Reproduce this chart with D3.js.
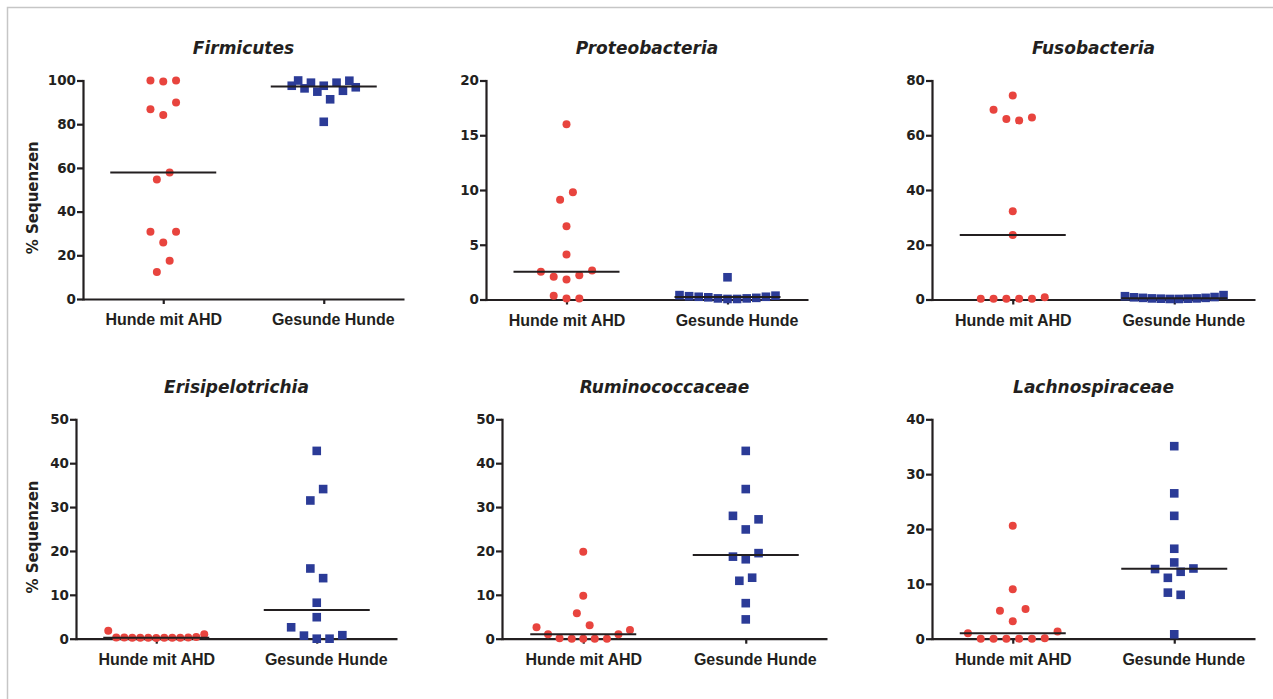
<!DOCTYPE html>
<html>
<head>
<meta charset="utf-8">
<script src="https://cdn.jsdelivr.net/npm/d3@7/dist/d3.min.js"></script>
<style>
  body { margin: 0; background: #fff; }
  svg { display: block; font-family: "Liberation Sans", Arial, sans-serif; }
</style>
</head>
<body>
<svg id="chart" width="1273" height="699"></svg>
<script>
// Dot plots: % Sequenzen per taxon, dogs with AHD vs healthy dogs
const groups = ["Hunde mit AHD", "Gesunde Hunde"];
const titles = ["Firmicutes", "Proteobacteria", "Fusobacteria",
                "Erisipelotrichia", "Ruminococcaceae", "Lachnospiraceae"];
const yMaxes = [100, 20, 80, 50, 50, 40];
const yTickSteps = [20, 5, 20, 10, 10, 10];

// each point: [percent, dot column in the scatter (0 = on the category)]
const firmicutesAhd = [[100, -2], [99.5, 0], [100, 2], [86.8, -2], [84.2, 0], [89.9, 2],
  [57.9, 1], [54.7, -1], [30.8, -2], [25.9, 0], [30.8, 2], [17.5, 1], [12.3, -1]];
const firmicutesGesund = [[97.6, -5], [100, -4], [96.4, -3], [99, -2], [94.9, -1], [97.6, 0],
  [91.4, 1], [99, 2], [95.3, 3], [99.9, 4], [96.9, 5], [81.1, 0]];

const proteoAhd = [[16.0, 0], [9.1, -1], [9.8, 1], [6.7, 0], [4.1, 0], [2.53, -4], [2.07, -2],
  [1.82, 0], [2.22, 2], [2.64, 4], [0.34, -2], [0.09, 0], [0.09, 2]];
const proteoGesund = [[0.4, -7.5], [0.3, -6], [0.25, -4.5], [0.2, -3], [0.1, -1.5], [0.05, 0],
  [0.05, 1.5], [0.1, 3], [0.15, 4.5], [0.25, 6], [0.35, 7.5], [2.03, 0]];

const fusoAhd = [[74.5, 0], [69.3, -3], [65.9, -1], [65.4, 1], [66.5, 3], [32.2, 0], [23.6, 0],
  [0.3, -5], [0.3, -3], [0.3, -1], [0.3, 1], [0.3, 3], [0.8, 5]];
const fusoGesund = [[1.2, -7.7], [0.8, -6.3], [0.6, -4.9], [0.4, -3.5], [0.3, -2.1], [0.2, -0.7],
  [0.2, 0.7], [0.3, 2.1], [0.4, 3.5], [0.6, 4.9], [0.9, 6.3], [1.6, 7.7]];

const erisiAhd = [[1.8, -7.5], [0.3, -6.25], [0.3, -5], [0.2, -3.75], [0.2, -2.5], [0.2, -1.25],
  [0.15, 0], [0.2, 1.25], [0.2, 2.5], [0.2, 3.75], [0.3, 5], [0.4, 6.25], [1.0, 7.5]];
const erisiGesund = [[42.8, 0], [34.1, 1], [31.5, -1], [16.0, -1], [13.8, 1], [8.2, 0], [4.9, 0],
  [2.6, -4], [0.7, -2], [0, 0], [0, 2], [0.8, 4]];

const ruminoAhd = [[19.8, 0], [9.8, 0], [5.8, -1], [3.05, 1], [2.6, -7.3], [1.0, -5.5], [0.1, -3.7],
  [0, -1.8], [0, 0], [0, 1.8], [0, 3.7], [1.0, 5.5], [2.0, 7.3]];
const ruminoGesund = [[42.8, 0], [34.1, 0], [28.0, -2], [27.2, 2], [24.9, 0], [18.7, -2], [18.1, 0],
  [19.5, 2], [13.2, -1], [13.9, 1], [8.1, 0], [4.4, 0]];

const lachnoAhd = [[20.6, 0], [9.0, 0], [5.1, -2], [5.4, 2], [3.2, 0], [1.0, -7], [0, -5], [0, -3],
  [0, -1], [0, 1], [0, 3], [0.1, 5], [1.3, 7]];
const lachnoGesund = [[35.1, 0], [26.5, 0], [22.4, 0], [16.4, 0], [13.9, 0], [12.7, -3], [12.8, 3],
  [12.2, 1], [11.1, -1], [8.4, -1], [8.0, 1], [0.8, 0]];

const series = [
  [firmicutesAhd, firmicutesGesund],
  [proteoAhd, proteoGesund],
  [fusoAhd, fusoGesund],
  [erisiAhd, erisiGesund],
  [ruminoAhd, ruminoGesund],
  [lachnoAhd, lachnoGesund]
];

// grid layout (axis extents of each panel)
const panelBoxes = [
  { x0: 83, x1: 404, top: 80.5, bottom: 299, yLabel: true },
  { x0: 486, x1: 808, top: 80.5, bottom: 299.5 },
  { x0: 932, x1: 1255, top: 80.5, bottom: 299.5 },
  { x0: 76, x1: 397, top: 419.3, bottom: 638.7, yLabel: true },
  { x0: 502, x1: 827, top: 419.3, bottom: 638.7 },
  { x0: 932, x1: 1255, top: 419.3, bottom: 638.7 }
];

const INK = "#231f20";
const WIDE = "'DejaVu Sans', Verdana, sans-serif";
const colours = ["#e8443e", "#2b3b97"];
const dotCol = d3.scaleLinear().domain([0, 1]).range([0, 6.4]);

const svg = d3.select("#chart");

// light frame (top and left edge)
svg.append("path")
  .attr("d", "M7.5,699V7.5H1273")
  .attr("fill", "none")
  .attr("stroke", "#c6c6c6")
  .attr("stroke-width", 1.5);

function drawPanel(i) {
  const box = panelBoxes[i];
  const g = svg.append("g").attr("class", "panel");

  const x = d3.scalePoint().domain(groups).range([box.x0, box.x1]).padding(0.5);
  const y = d3.scaleLinear().domain([0, yMaxes[i]]).range([box.bottom, box.top]);

  // y axis
  const yAxis = d3.axisLeft(y)
    .tickValues(d3.range(0, yMaxes[i] + 1, yTickSteps[i]))
    .tickSize(6)
    .tickSizeOuter(0)
    .tickPadding(1);
  const yg = g.append("g")
    .attr("transform", `translate(${box.x0},0)`)
    .call(yAxis);
  yg.attr("color", INK).attr("font-family", null).attr("font-size", null);
  yg.selectAll("path, line").attr("stroke-width", 2.2);
  yg.select(".domain").attr("stroke-linecap", "square");
  yg.selectAll("text")
    .style("font-family", WIDE)
    .style("font-size", "13.5px")
    .style("font-weight", "bold");

  // x axis with category labels
  const xAxis = d3.axisBottom(x).tickSize(5).tickSizeOuter(0);
  const xg = g.append("g")
    .attr("transform", `translate(0,${box.bottom})`)
    .call(xAxis);
  xg.attr("color", INK).attr("font-family", null).attr("font-size", null);
  xg.selectAll("path, line").attr("stroke-width", 2.2);
  xg.selectAll("text")
    .attr("y", 26)
    .attr("dy", null)
    .attr("dx", (d, k) => k === 1 ? 9 : 0)
    .style("font-size", "16px")
    .style("font-weight", "bold");

  // title
  g.append("text")
    .attr("x", (box.x0 + box.x1) / 2)
    .attr("y", box.top - 26.5)
    .attr("text-anchor", "middle")
    .attr("fill", INK)
    .style("font-family", WIDE)
    .style("font-size", "17px")
    .style("font-weight", "bold")
    .style("font-style", "italic")
    .text(titles[i]);

  if (box.yLabel) {
    g.append("text")
      .attr("transform", `translate(38,${(box.top + box.bottom) / 2 + 8}) rotate(-90)`)
      .attr("text-anchor", "middle")
      .attr("fill", INK)
      .style("font-family", WIDE)
      .style("font-size", "15px")
      .style("font-weight", "bold")
      .text("% Sequenzen");
  }

  // points
  const [ahd, gesund] = series[i];
  g.append("g").selectAll("circle")
    .data(ahd)
    .join("circle")
    .attr("cx", d => x(groups[0]) + dotCol(d[1]))
    .attr("cy", d => y(d[0]))
    .attr("r", 4)
    .attr("fill", colours[0]);

  const side = 8.6;
  g.append("g").selectAll("rect")
    .data(gesund)
    .join("rect")
    .attr("x", d => x(groups[1]) + dotCol(d[1]) - side / 2)
    .attr("y", d => y(d[0]) - side / 2)
    .attr("width", side)
    .attr("height", side)
    .attr("fill", colours[1]);

  // median lines
  const half = 53;
  g.append("g").selectAll("line")
    .data([ahd, gesund])
    .join("line")
    .attr("x1", (d, k) => x(groups[k]) - half)
    .attr("x2", (d, k) => x(groups[k]) + half)
    .attr("y1", d => y(d3.median(d, p => p[0])))
    .attr("y2", d => y(d3.median(d, p => p[0])))
    .attr("stroke", INK)
    .attr("stroke-width", 2);
}

titles.forEach((t, i) => drawPanel(i));
</script>
</body>
</html>
